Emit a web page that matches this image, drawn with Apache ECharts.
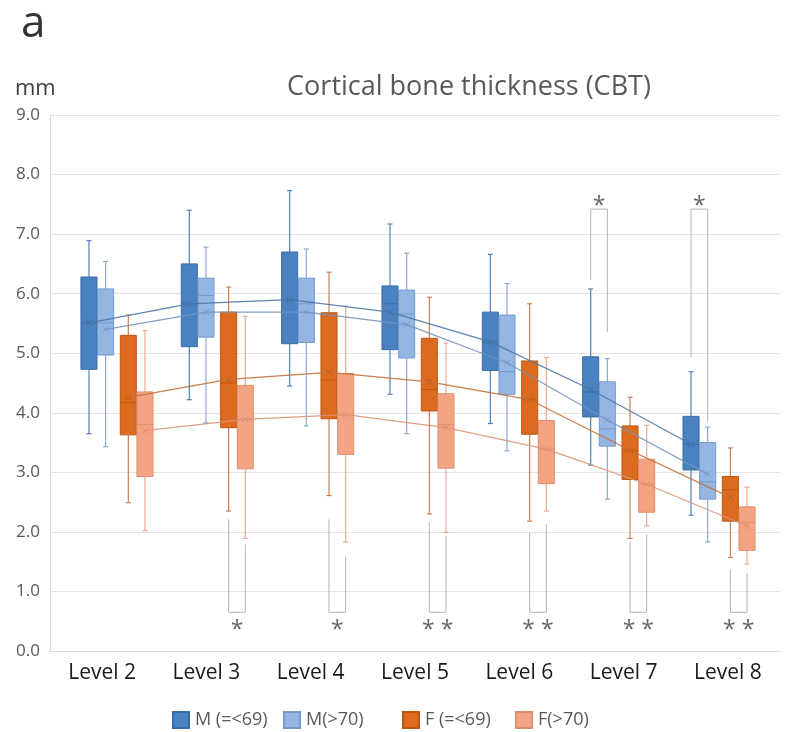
<!DOCTYPE html>
<html><head><meta charset="utf-8">
<script src="https://cdn.jsdelivr.net/npm/echarts@6/dist/echarts.min.js"></script>
<style>html,body{margin:0;padding:0;background:#fff}#c{width:798px;height:732px}</style>
</head><body><div id="c"></div>
<script>
// ---------- DATA ----------
const levels = ['Level 2', 'Level 3', 'Level 4', 'Level 5', 'Level 6', 'Level 7', 'Level 8'];
const seriesNames = ['M (=<69)', 'M(>70)', 'F (=<69)', 'F(>70)'];
// [min, Q1, median, Q3, max] per level (mm)
const mYoungBox = [[3.65,4.73,5.51,6.28,6.89],[4.22,5.11,5.83,6.50,7.40],[4.45,5.16,5.90,6.70,7.73],[4.31,5.06,5.83,6.13,7.17],[3.82,4.71,5.19,5.69,6.66],[3.12,3.93,4.35,4.94,6.08],[2.28,3.04,3.47,3.94,4.69]];
const mYoungMean = [5.51,5.83,5.90,5.69,5.19,4.39,3.47];
const mOldBox = [[3.43,4.97,5.51,6.08,6.54],[3.83,5.27,5.97,6.26,6.78],[3.78,5.18,5.83,6.26,6.75],[3.65,4.92,5.66,6.06,6.68],[3.36,4.31,4.69,5.64,6.17],[2.55,3.44,3.73,4.52,4.91],[1.83,2.55,2.84,3.50,3.76]];
const mOldMean = [5.40,5.69,5.69,5.48,4.84,3.88,2.97];
const fYoungBox = [[2.49,3.63,4.17,5.30,5.64],[2.35,3.75,4.50,5.69,6.11],[2.61,3.90,4.55,5.68,6.36],[2.30,4.03,4.39,5.25,5.94],[2.18,3.64,4.22,4.87,5.83],[1.89,2.88,3.37,3.78,4.26],[1.57,2.18,2.71,2.93,3.41]];
const fYoungMean = [4.26,4.56,4.68,4.52,4.22,3.37,2.58];
const fOldBox = [[2.02,2.93,3.80,4.35,5.38],[1.89,3.06,3.89,4.46,5.62],[1.83,3.30,3.97,4.66,5.79],[1.99,3.07,3.80,4.32,5.17],[2.35,2.81,3.39,3.87,4.93],[2.10,2.33,2.80,3.22,3.79],[1.46,1.69,2.16,2.42,2.75]];
const fOldMean = [3.70,3.89,3.97,3.75,3.39,2.80,2.10];
// significance brackets: [level index, pair (0 = M, 1 = F), left leg start, right leg start, bracket end (mm), label]
const brackets = [
  [5, 0, 6.23, 5.35, 7.42, '*'],
  [6, 0, 4.93, 3.85, 7.42, '*'],
  [1, 1, 2.21, 1.79, 0.65, '*'],
  [2, 1, 2.21, 1.58, 0.65, '*'],
  [3, 1, 2.16, 1.93, 0.65, '* *'],
  [4, 1, 1.99, 2.13, 0.65, '* *'],
  [5, 1, 1.83, 1.96, 0.65, '* *'],
  [6, 1, 1.37, 1.31, 0.65, '* *']
];

// ---------- LAYOUT / STYLE ----------
const OFFSETS = [-0.279, -0.113, 0.113, 0.279];
const BOX_W = 0.16;
const STYLE = [
  {fill:'#4a81c0', border:'#3a6ca6', whisker:'#5283bb', mean:'#4d77a6'},
  {fill:'#93b6e3', border:'#7599cb', whisker:'#8aaad6', mean:'#7393bf'},
  {fill:'#dc6a1f', border:'#bf5712', whisker:'#c98058', mean:'#c3703b'},
  {fill:'#f3a484', border:'#df8d6c', whisker:'#e8ab93', mean:'#dc9476'}
];
const boxes = [mYoungBox, mOldBox, fYoungBox, fOldBox];
const means = [mYoungMean, mOldMean, fYoungMean, fOldMean];
const FONT = '"Open Sans", "Noto Sans", sans-serif';

function boxRenderer(s) {
  const st = STYLE[s];
  return function (params, api) {
    const c = api.value(0);
    const band = api.size([1, 0])[0];
    const cx = api.coord([c, 0])[0] + OFFSETS[s] * band;
    const w = BOX_W * band;
    const Y = v => api.coord([c, v])[1];
    const yMin = Y(api.value(1)), yQ1 = Y(api.value(2)), yMed = Y(api.value(3)),
          yQ3 = Y(api.value(4)), yMax = Y(api.value(5)), yMean = Y(api.value(6));
    const wl = {stroke: st.whisker, lineWidth: 1.2};
    const cap = 2.5, xs = 3;
    return {type: 'group', children: [
      {type:'line', shape:{x1:cx, y1:yMax, x2:cx, y2:yQ3}, style:wl},
      {type:'line', shape:{x1:cx, y1:yQ1, x2:cx, y2:yMin}, style:wl},
      {type:'line', shape:{x1:cx-cap, y1:yMax, x2:cx+cap, y2:yMax}, style:wl},
      {type:'line', shape:{x1:cx-cap, y1:yMin, x2:cx+cap, y2:yMin}, style:wl},
      {type:'rect', shape:{x:cx-w/2, y:yQ3, width:w, height:yQ1-yQ3}, style:{fill:st.fill, stroke:st.border, lineWidth:1}},
      {type:'line', shape:{x1:cx-w/2, y1:yMed, x2:cx+w/2, y2:yMed}, style:{stroke:st.border, lineWidth:1}},
      {type:'line', shape:{x1:cx-xs, y1:yMean-xs, x2:cx+xs, y2:yMean+xs}, style:{stroke:st.border, lineWidth:1}},
      {type:'line', shape:{x1:cx-xs, y1:yMean+xs, x2:cx+xs, y2:yMean-xs}, style:{stroke:st.border, lineWidth:1}}
    ]};
  };
}
function meanRenderer(s) {
  const st = STYLE[s];
  return function (params, api) {
    const c = api.value(0);
    const band = api.size([1, 0])[0];
    const p1 = api.coord([c, api.value(1)]);
    const p2 = api.coord([c + 1, api.value(2)]);
    return {type:'line', shape:{x1:p1[0] + OFFSETS[s]*band, y1:p1[1], x2:p2[0] + OFFSETS[s]*band, y2:p2[1]},
            style:{stroke:st.mean, lineWidth:1.2, opacity:0.9}};
  };
}
function bracketRenderer(params, api) {
  const c = api.value(0), pair = api.value(1);
  const band = api.size([1, 0])[0];
  const base = api.coord([c, 0])[0];
  const xl = base + OFFSETS[pair*2] * band, xr = base + OFFSETS[pair*2+1] * band;
  const yl = api.coord([c, api.value(2)])[1], yr = api.coord([c, api.value(3)])[1], ye = api.coord([c, api.value(4)])[1];
  const top = ye < yl;
  const label = brackets[params.dataIndex][5];
  return {type:'group', children:[
    {type:'polyline', shape:{points:[[xl, yl],[xl, ye],[xr, ye],[xr, yr]]}, style:{stroke:'#b4b4b4', lineWidth:1, fill:null}},
    {type:'text', x:(xl+xr)/2, y: top ? ye - 3 : ye + 18,
     style:{text:label, fill:'#666666', font:'23px ' + FONT, align:'center', verticalAlign:'middle'}}
  ]};
}

const series = [];
for (let s = 0; s < 4; s++) {
  series.push({
    type:'custom', name: seriesNames[s], xAxisIndex:1, yAxisIndex:1, z: 3 + s,
    itemStyle:{color: STYLE[s].fill, borderColor: STYLE[s].border, borderWidth:1},
    renderItem: boxRenderer(s),
    encode:{x:0, y:[1,2,3,4,5,6]},
    data: boxes[s].map((b, i) => [i, b[0], b[1], b[2], b[3], b[4], means[s][i]])
  });
}
for (let s = 0; s < 4; s++) {
  series.push({
    type:'custom', name:'mean' + s, xAxisIndex:1, yAxisIndex:1, z: 10, silent:true,
    renderItem: meanRenderer(s), encode:{x:0, y:[1,2]},
    data: means[s].slice(0, -1).map((m, i) => [i, m, means[s][i+1]])
  });
}
series.push({
  type:'custom', name:'sig', xAxisIndex:1, yAxisIndex:1, z: 12, silent:true,
  renderItem: bracketRenderer, encode:{x:0, y:[2,3,4]},
  data: brackets.map(b => [b[0], b[1], b[2], b[3], b[4]])
});

const legendLeft = [167, 278, 397, 510];
const option = {
  animation:false,
  backgroundColor:'#fff',
  title:[
    {text:'a', left:16, top:-3, textStyle:{fontFamily:FONT, fontSize:44, fontWeight:'normal', color:'#333'}},
    {text:'Cortical bone thickness (CBT)', left:464, textAlign:'center', top:69, textStyle:{fontFamily:FONT, fontSize:27, fontWeight:'normal', color:'#595959'}},
    {text:'mm', left:10, top:73, textStyle:{fontFamily:FONT, fontSize:22, fontWeight:'normal', color:'#404040'}}
  ],
  legend: seriesNames.map((n, i) => ({
    data:[n], left: legendLeft[i], top: 706, itemWidth:16, itemHeight:16, itemGap:6, icon:'rect', selectedMode:false,
    textStyle:{fontFamily:FONT, fontSize:18, color:'#595959', padding:[0,0,0,1]}
  })),
  grid:[
    {left:50, right:18, top:115, bottom:81},
    {left:66.8, right:28.8, top:115, bottom:81}
  ],
  xAxis:[
    {type:'category', gridIndex:0, data:levels, axisTick:{show:false},
     axisLine:{show:true, lineStyle:{color:'#dadada'}},
     axisLabel:{fontFamily:FONT, fontSize:21, color:'#1a1a1a', margin:12}},
    {type:'category', gridIndex:1, data:levels, show:false}
  ],
  yAxis:[
    {type:'value', gridIndex:0, min:0, max:9, interval:1,
     axisLine:{show:true, lineStyle:{color:'#dadada'}}, axisTick:{show:false},
     splitLine:{lineStyle:{color:'#e3e3e3'}},
     axisLabel:{fontFamily:FONT, fontSize:17, color:'#595959', margin:10, formatter: v => v.toFixed(1)}},
    {type:'value', gridIndex:1, min:0, max:9, interval:1, show:false, splitLine:{show:false}}
  ],
  series: series
};
const chart = echarts.init(document.getElementById('c'), null, {renderer:'canvas'});
chart.setOption(option);
</script></body></html>
